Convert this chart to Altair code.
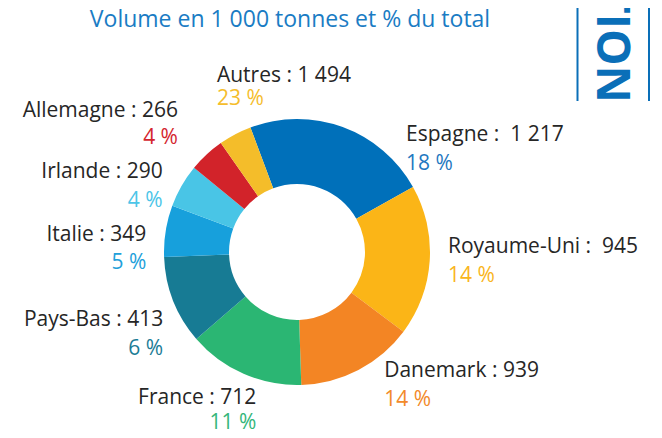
import math
import pandas as pd
import altair as alt

# ---------------- data ----------------
countries = ["Espagne", "Royaume-Uni", "Danemark", "France", "Pays-Bas",
             "Italie", "Irlande", "Allemagne", "Autres"]
volumes = [1217, 945, 939, 712, 413, 349, 290, 266, 1494]
percents = [18, 14, 14, 11, 6, 5, 4, 4, 23]
# slice sizes as drawn in the reference (clockwise from the blue slice)
drawn_slice_volumes = [1494, 1217, 945, 939, 712, 413, 349, 290, 266]

slice_colors = ["#0070ba", "#fbb517", "#f38524", "#2bb673", "#177b94",
                "#17a0dc", "#49c5e6", "#d2232a", "#f4bd2a"]
pct_colors = ["#1f78c1", "#f9b51c", "#f28a2a", "#34b67a", "#1b7c96",
              "#22a0da", "#4cc5e8", "#d4252e", "#f5bd2c"]
title_text = "Volume en 1 000 tonnes et % du total"
tab_text = "PRODUCTION"

# ---------------- layout ----------------
CX, CY = 289, 244          # donut centre (view coordinates)
R_OUT, R_IN = 133, 68
START = math.radians(-20.5)
FONT = "Open Sans"
TXT = "#262626"

# label anchors: angle (deg, clockwise from north), radius (px), line gap, side
label_angle = [44.5, 90.4, 145, 195, 241, 274, 299, 318.6, 334.8]
label_radius = [155.6, 151, 152, 157, 153, 151, 153.6, 180, 188]
label_gap = [29, 28.5, 29.4, 25.5, 29, 27.6, 29, 26.6, 23.5]
label_side = ["left", "left", "left", "right", "right", "right", "right", "right", "left"]


def fmt_vol(v):
    return f"{v:,}".replace(",", " ")


name_text = []
for c, v in zip(countries, volumes):
    sep = " :\u00a0\u00a0" if c in ("Espagne", "Royaume-Uni") else " : "
    name_text.append(c + sep + fmt_vol(v))

rows = []
for i in range(len(countries)):
    a = math.radians(label_angle[i])
    r = label_radius[i]
    x, y = r * math.sin(a), -r * math.cos(a)
    rows.append(dict(txt=name_text[i], th=a, rad=r, tc=TXT, side=label_side[i]))
    y2 = y + label_gap[i]
    rows.append(dict(txt=f"{percents[i]} %", th=math.atan2(x, -y2),
                     rad=math.hypot(x, y2), tc=pct_colors[i], side=label_side[i]))
labels = pd.DataFrame(rows)

slices = pd.DataFrame({
    "idx": list(range(len(countries))),
    "country": countries,
    "vol": drawn_slice_volumes,
    "col": slice_colors,
})

donut = alt.Chart(slices).mark_arc(radius=R_OUT, innerRadius=R_IN).encode(
    theta=alt.Theta("vol:Q", stack=True,
                    scale=alt.Scale(range=[START, START + 2 * math.pi])),
    color=alt.Color("col:N", scale=None),
    order=alt.Order("idx:Q"),
    x=alt.value(CX), y=alt.value(CY),
)


def label_layer(side):
    return alt.Chart(labels).transform_filter(
        alt.datum.side == side
    ).mark_text(align=side, baseline="alphabetic", font=FONT, fontSize=21).encode(
        text="txt:N",
        theta=alt.Theta("th:Q", scale=None),
        radius=alt.Radius("rad:Q", scale=None),
        color=alt.Color("tc:N", scale=None),
        x=alt.value(CX), y=alt.value(CY),
    )


title = alt.Chart(pd.DataFrame({"t": [title_text]})).mark_text(
    font=FONT, fontSize=23, color="#1a7cc4", align="center", baseline="alphabetic"
).encode(text="t:N", x=alt.value(282), y=alt.value(19))

tab = alt.Chart(pd.DataFrame({"t": [tab_text]})).mark_text(
    font=FONT, fontSize=46, fontWeight="bold", color="#0a6fb8", angle=90,
    align="right", baseline="alphabetic"
).encode(text="t:N", x=alt.value(589), y=alt.value(95))

rules = alt.Chart(pd.DataFrame({"x": [569.5, 641]})).mark_rule(
    color="#0a6fb8", strokeWidth=2
).encode(x=alt.X("x:Q", scale=None), y=alt.value(0), y2=alt.value(93))

chart = alt.layer(
    donut, label_layer("left"), label_layer("right"), title, tab, rules
).resolve_scale(theta="independent", radius="independent").properties(
    width=646, height=422, padding=0,
    autosize=alt.AutoSizeParams(type="none"),
).configure_view(stroke=None)

chart.save("out.html", embed_options={"renderer": "svg", "actions": False})
